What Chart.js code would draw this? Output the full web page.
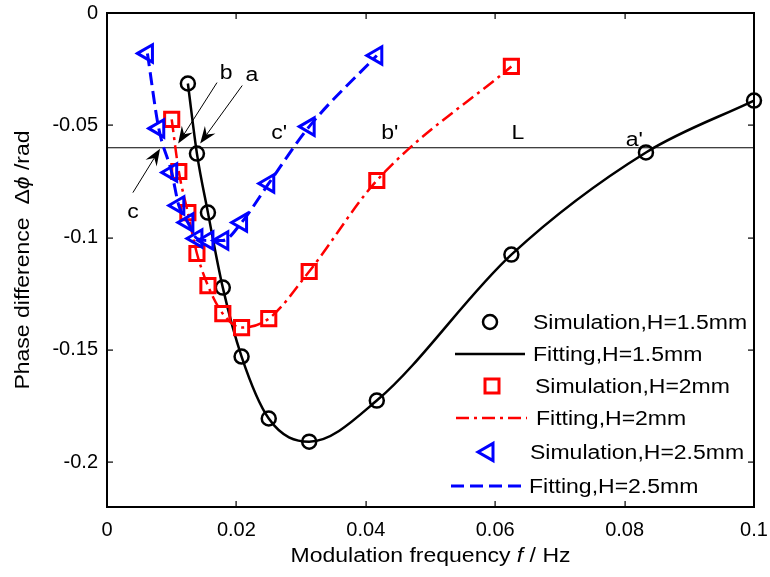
<!DOCTYPE html>
<html lang="en">
<head>
<meta charset="UTF-8">
<title>Phase difference vs modulation frequency</title>
<script src="https://cdn.jsdelivr.net/npm/chart.js"></script>
<style>
  html, body { margin: 0; padding: 0; background: #fff; }
  #wrap { width: 770px; height: 577px; }
</style>
</head>
<body>
<div id="wrap"><canvas id="phaseChart" width="770" height="577"></canvas></div>
<script>
// modulation frequency (Hz) and phase difference (rad)
const freq15  = [0.0125, 0.0139, 0.0156, 0.0179, 0.0208, 0.025, 0.03125, 0.0417, 0.0625, 0.0833, 0.1];
const phase15 = [-0.0314, -0.0626, -0.0889, -0.1223, -0.1530, -0.1806, -0.1909, -0.1726, -0.1076, -0.0621, -0.0390];

const freq20  = [0.01, 0.0111, 0.0125, 0.0139, 0.0156, 0.0179, 0.0208, 0.025, 0.03125, 0.0417, 0.0625];
const phase20 = [-0.0474, -0.0706, -0.0889, -0.1071, -0.1214, -0.1339, -0.1401, -0.1361, -0.1151, -0.0746, -0.0238];

const freq25  = [0.00625, 0.008, 0.01, 0.0111, 0.0125, 0.0139, 0.0156, 0.0179, 0.0208, 0.025, 0.03125, 0.0417];
const phase25 = [-0.0180, -0.0514, -0.0710, -0.0857, -0.0933, -0.1004, -0.1013, -0.1013, -0.0933, -0.0759, -0.0506, -0.0189];

// reference line L
const lineLX = [0, 0.1];
const lineLY = [-0.06, -0.06];

const xTickValues = [0, 0.02, 0.04, 0.06, 0.08, 0.1];
const yTickValues = [0, -0.05, -0.1, -0.15, -0.2];

const legendLabels = ['Simulation,H=1.5mm', 'Fitting,H=1.5mm', 'Simulation,H=2mm',
                      'Fitting,H=2mm', 'Simulation,H=2.5mm', 'Fitting,H=2.5mm'];

// point labels and arrows (data coordinates)
const labelText = ['a', 'b', 'c', "c'", "b'", 'L', "a'"];
const labelX    = [0.0224, 0.0184, 0.0040, 0.0266, 0.0437, 0.0635, 0.0815];
const labelY    = [-0.0278, -0.0269, -0.0889, -0.0537, -0.0537, -0.0537, -0.0568];
const arrowFrom = [[0.0209, -0.0323], [0.0170, -0.0310], [0.0040, -0.0800]];
const arrowTo   = [[0.0144, -0.0581], [0.0110, -0.0581], [0.0082, -0.0604]];

const FONT = "'Liberation Sans', Arial, sans-serif";
const STRETCH = 1.15;

function pts(xs, ys) { return xs.map((x, i) => ({ x: x, y: ys[i] })); }

function stretchText(ctx, txt, x, y, align) {
  ctx.save();
  ctx.translate(x, y);
  ctx.scale(STRETCH, 1);
  ctx.textAlign = align;
  ctx.fillText(txt, 0, 0);
  ctx.restore();
}

// draws a run of [text, italic] pieces centred on (0,0) in the current transform
function drawPieces(ctx, pieces, size) {
  let total = 0;
  pieces.forEach(p => {
    ctx.font = (p[1] ? 'italic ' : '') + size + 'px ' + FONT;
    total += ctx.measureText(p[0]).width;
  });
  ctx.save();
  ctx.scale(STRETCH, 1);
  let x = -total / 2;
  ctx.textAlign = 'left';
  ctx.textBaseline = 'middle';
  pieces.forEach(p => {
    ctx.font = (p[1] ? 'italic ' : '') + size + 'px ' + FONT;
    ctx.fillText(p[0], x, 0);
    x += ctx.measureText(p[0]).width;
  });
  ctx.restore();
}

function drawArrow(ctx, x1, y1, x2, y2) {
  const ang = Math.atan2(y2 - y1, x2 - x1);
  const len = 17, half = 6.5, notch = 11;
  ctx.beginPath();
  ctx.moveTo(x1, y1);
  ctx.lineTo(x2 - Math.cos(ang) * notch, y2 - Math.sin(ang) * notch);
  ctx.stroke();
  ctx.save();
  ctx.translate(x2, y2);
  ctx.rotate(ang);
  ctx.beginPath();
  ctx.moveTo(0, 0);
  ctx.lineTo(-len, -half);
  ctx.lineTo(-notch, 0);
  ctx.lineTo(-len, half);
  ctx.closePath();
  ctx.fill();
  ctx.restore();
}

function legendMarker(ctx, kind, x, y) {
  ctx.save();
  ctx.setLineDash([]);
  if (kind === 'circle') {
    ctx.strokeStyle = '#000'; ctx.lineWidth = 2.5;
    ctx.beginPath(); ctx.arc(x, y, 7, 0, Math.PI * 2); ctx.stroke();
  } else if (kind === 'rect') {
    ctx.strokeStyle = '#ff0000'; ctx.lineWidth = 3;
    ctx.strokeRect(x - 7, y - 7, 14, 14);
  } else {
    ctx.strokeStyle = '#0000ff'; ctx.lineWidth = 3; ctx.lineJoin = 'miter';
    ctx.beginPath();
    ctx.moveTo(x - 10, y);
    ctx.lineTo(x + 5, y - 8.66);
    ctx.lineTo(x + 5, y + 8.66);
    ctx.closePath(); ctx.stroke();
  }
  ctx.restore();
}

function legendLine(ctx, color, dash, width, x1, x2, y) {
  ctx.save();
  ctx.strokeStyle = color; ctx.lineWidth = width; ctx.setLineDash(dash);
  ctx.beginPath(); ctx.moveTo(x1, y); ctx.lineTo(x2, y); ctx.stroke();
  ctx.restore();
}

const decorPlugin = {
  id: 'decor',
  afterDraw(chart) {
    const ctx = chart.ctx;
    const a = chart.chartArea;
    const xs = chart.scales.x, ys = chart.scales.y;
    const L = Math.round(a.left), R = Math.round(a.right);
    const T = Math.round(a.top), B = Math.round(a.bottom);

    ctx.save();
    ctx.setLineDash([]);
    ctx.fillStyle = '#000';

    // box with inward ticks, drawn as filled strips
    ctx.fillRect(L - 1, T - 1, R - L + 2, 2);
    ctx.fillRect(L - 1, B - 1, R - L + 2, 2);
    ctx.fillRect(L - 1, T - 1, 2, B - T + 2);
    ctx.fillRect(R - 1, T - 1, 2, B - T + 2);
    xTickValues.forEach(v => {
      const px = Math.round(xs.getPixelForValue(v));
      ctx.fillRect(px - 0.5, B - 6, 1.2, 6);
      ctx.fillRect(px - 0.5, T, 1.2, 6);
    });
    yTickValues.forEach(v => {
      const py = Math.round(ys.getPixelForValue(v));
      ctx.fillRect(L, py - 0.5, 6, 1.2);
      ctx.fillRect(R - 6, py - 0.5, 6, 1.2);
    });

    // labels and arrows
    ctx.strokeStyle = '#000';
    ctx.font = '20px ' + FONT;
    ctx.textBaseline = 'middle';
    labelText.forEach((t, i) => {
      stretchText(ctx, t, xs.getPixelForValue(labelX[i]), ys.getPixelForValue(labelY[i]), 'center');
    });
    ctx.lineWidth = 1;
    arrowFrom.forEach((f, i) => {
      drawArrow(ctx, xs.getPixelForValue(f[0]), ys.getPixelForValue(f[1]),
                xs.getPixelForValue(arrowTo[i][0]), ys.getPixelForValue(arrowTo[i][1]));
    });

    // legend
    const rows = [
      { y: 322, kind: 'circle', mx: 490, tx: 533 },
      { y: 354, line: ['#000', [], 2.5], lx: [455, 525], tx: 533 },
      { y: 386, kind: 'rect', mx: 492, tx: 535 },
      { y: 418, line: ['#ff0000', [13, 5, 3, 5], 2.5], lx: [456, 527], tx: 536 },
      { y: 452, kind: 'tri', mx: 488, tx: 530 },
      { y: 486, line: ['#0000ff', [13, 6], 3], lx: [451, 522], tx: 529 }
    ];
    rows.forEach((r, i) => {
      if (r.kind) legendMarker(ctx, r.kind, r.mx, r.y);
      else legendLine(ctx, r.line[0], r.line[1], r.line[2], r.lx[0], r.lx[1], r.y);
      ctx.fillStyle = '#000';
      ctx.font = '20px ' + FONT;
      ctx.textBaseline = 'middle';
      stretchText(ctx, legendLabels[i], r.tx, r.y + 1, 'left');
    });

    // axis titles
    ctx.save();
    ctx.translate((a.left + a.right) / 2, 556);
    drawPieces(ctx, [['Modulation frequency ', false], ['f', true], [' / Hz', false]], 20);
    ctx.restore();
    ctx.save();
    ctx.translate(23, (a.top + a.bottom) / 2);
    ctx.rotate(-Math.PI / 2);
    drawPieces(ctx, [['Phase difference  \u0394', false], ['\u03d5', true], [' /rad', false]], 20);
    ctx.restore();
    ctx.restore();
  }
};

const ctx = document.getElementById('phaseChart').getContext('2d');
const chart = new Chart(ctx, {
  type: 'scatter',
  data: {
    datasets: [
      { label: 'L', data: pts(lineLX, lineLY), showLine: true, borderColor: '#000', borderWidth: 1.2,
        pointRadius: 0, order: 7 },
      { label: legendLabels[0], data: pts(freq15, phase15), pointStyle: 'circle', pointRadius: 7,
        pointBorderWidth: 2.5, borderColor: '#000', backgroundColor: 'rgba(0,0,0,0)', order: 6, clip: false },
      { label: legendLabels[1], data: pts(freq15, phase15), showLine: true, cubicInterpolationMode: 'monotone',
        borderColor: '#000', borderWidth: 2.5, pointRadius: 0, order: 5 },
      { label: legendLabels[2], data: pts(freq20, phase20), pointStyle: 'rect', pointRadius: 10,
        pointBorderWidth: 3, borderColor: '#ff0000', backgroundColor: 'rgba(0,0,0,0)', order: 4, clip: false },
      { label: legendLabels[3], data: pts(freq20, phase20), showLine: true, cubicInterpolationMode: 'monotone',
        borderColor: '#ff0000', borderWidth: 2.5, borderDash: [13, 5, 3, 5], pointRadius: 0, order: 3 },
      { label: legendLabels[4], data: pts(freq25, phase25), pointStyle: 'triangle', rotation: -90, pointRadius: 10,
        pointBorderWidth: 3, borderColor: '#0000ff', backgroundColor: 'rgba(0,0,0,0)', order: 2, clip: false },
      { label: legendLabels[5], data: pts(freq25, phase25), showLine: true, cubicInterpolationMode: 'monotone',
        borderColor: '#0000ff', borderWidth: 3, borderDash: [13, 6], pointRadius: 0, order: 1 }
    ]
  },
  options: {
    responsive: false,
    animation: false,
    devicePixelRatio: 1,
    layout: { padding: { top: 13, right: 16, left: 0, bottom: 0 } },
    plugins: { legend: { display: false }, tooltip: { enabled: false } },
    scales: {
      x: {
        type: 'linear', min: 0, max: 0.1,
        afterBuildTicks: s => { s.ticks = xTickValues.map(v => ({ value: v })); },
        afterFit: s => { s.height = 70; s.paddingLeft = 0; s.paddingRight = 0; },
        grid: { display: false, drawTicks: false },
        border: { display: false },
        ticks: { callback: v => String(v), color: '#000', font: { family: FONT, size: 20 },
                 padding: 11, maxRotation: 0, autoSkip: false }
      },
      y: {
        type: 'linear', min: -0.22, max: 0,
        afterBuildTicks: s => { s.ticks = yTickValues.map(v => ({ value: v })); },
        afterFit: s => { s.width = 107; s.paddingTop = 0; s.paddingBottom = 0; },
        grid: { display: false, drawTicks: false },
        border: { display: false },
        ticks: { callback: v => String(v), color: '#000', font: { family: FONT, size: 20 },
                 padding: 9, autoSkip: false }
      }
    }
  },
  plugins: [decorPlugin]
});
</script>
</body>
</html>
